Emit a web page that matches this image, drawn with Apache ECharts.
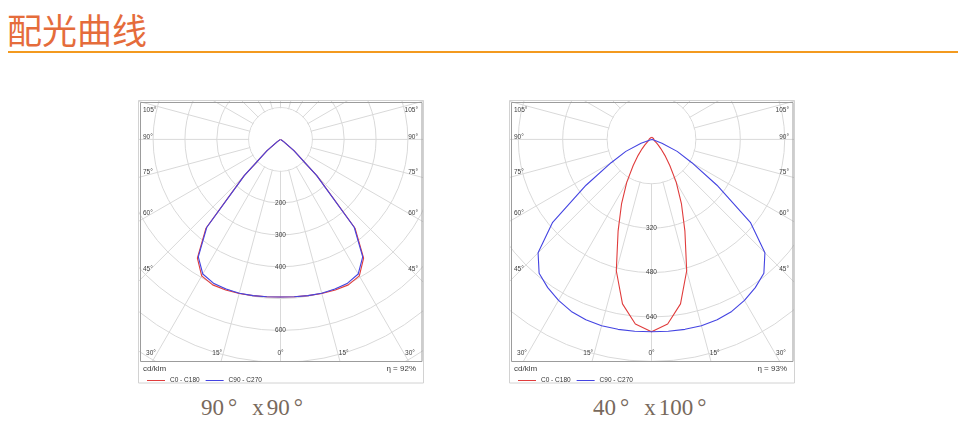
<!DOCTYPE html>
<html>
<head>
<meta charset="utf-8">
<title>配光曲线</title>
<script src="https://cdn.jsdelivr.net/npm/echarts@6/dist/echarts.min.js"></script>
<style>
  body { margin: 0; width: 969px; height: 426px; background: #fff; position: relative; overflow: hidden; }
  .title { position: absolute; left: 7px; top: 11px; font: 35px/35px "Noto Sans CJK SC", sans-serif; color: #e56c3b; }
  .rule { position: absolute; left: 8px; top: 51px; width: 950px; height: 2px; background: #f39a1f; }
  .box { position: absolute; top: 100px; width: 286px; height: 284px; }
  .cap { position: absolute; top: 396px; font: 23px/23px "Liberation Serif", serif; color: #78695c; white-space: nowrap; }
  .cap .dg { margin-left: 4px; }
  .cap .x { margin-left: 15px; margin-right: 3px; }
</style>
</head>
<body>
<div class="title">配光曲线</div>
<div class="rule"></div>
<div class="box" id="chartL" style="left:138px"></div>
<div class="box" id="chartR" style="left:509px"></div>
<div class="cap" style="left:201px">90<span class="dg">°</span><span class="x">x</span>90<span class="dg">°</span></div>
<div class="cap" style="left:593px">40<span class="dg">°</span><span class="x">x</span>100<span class="dg">°</span></div>
<script>
// gamma angle (deg from nadir), every 5 deg
var gammaDeg = [0, 5, 10, 15, 20, 25, 30, 35, 40, 45, 50, 55, 60, 65, 70, 75, 80, 85, 90,
  95, 100, 105, 110, 115, 120, 125, 130, 135, 140, 145, 150, 155, 160, 165, 170, 175, 180];

// 90 x 90 lamp, cd/klm
var leftC0 = [495, 496, 498, 501, 503, 504, 495, 455, 364, 163, 56, 12, 2, 0, 0, 0, 0, 0, 0,
  0, 0, 0, 0, 0, 0, 0, 0, 0, 0, 0, 0, 0, 0, 0, 0, 0, 0];
var leftC90 = [495, 496, 498, 500, 500, 498, 488, 450, 360, 160, 54, 12, 2, 0, 0, 0, 0, 0, 0,
  0, 0, 0, 0, 0, 0, 0, 0, 0, 0, 0, 0, 0, 0, 0, 0, 0, 0];

// 40 x 100 lamp, cd/klm
var rightC0 = [693, 668, 602, 490, 352, 255, 178, 115, 75, 48, 32, 22, 15, 11, 9, 8, 8, 8, 8,
  8, 8, 8, 8, 8, 8, 8, 8, 8, 8, 8, 8, 8, 8, 8, 8, 8, 8];
var rightC90 = [693, 694, 695, 695, 692, 684, 670, 652, 630, 578, 465, 288, 168, 102, 40, 6, 0, 0, 0,
  0, 0, 0, 0, 0, 0, 0, 0, 0, 0, 0, 0, 0, 0, 0, 0, 0, 0];

var leftRingLabels = [200, 300, 400, 600];
var rightRingLabels = [320, 480, 640];
var sideAngles = [45, 60, 75, 90, 105];
var bottomAngles = [30, 15, 0];
var seriesNames = ['C0 - C180', 'C90 - C270'];

var labelFont = 'Liberation Sans';
var gridColor = '#d9d9d9';

// closed curve: one half plane at angle g, the other at 360 - g
function curvePoints(values) {
  var pts = [];
  for (var i = gammaDeg.length - 1; i >= 0; i--) pts.push([values[i], gammaDeg[i]]);
  for (var j = 1; j < gammaDeg.length; j++) pts.push([values[j], 360 - gammaDeg[j]]);
  return pts;
}

function txt(x, y, s, align, size) {
  return { type: 'text', x: x, y: y, z: 60, silent: true,
    style: { text: s, fontSize: size || 6.5, fontFamily: labelFont, fill: '#3c3c3c', align: align, verticalAlign: 'middle' } };
}

function angleTexts(cx, cy) {
  var out = [];
  var d2r = Math.PI / 180;
  sideAngles.forEach(function (a) {
    var y = cy + (cx - 11) / Math.tan(a * d2r) - 2;
    if (y < 10) y = 10;
    out.push(txt(5, y, a + '°', 'left'));
    out.push(txt(280, y, a + '°', 'right'));
  });
  var yb = 253.5;
  bottomAngles.forEach(function (a) {
    var dx = (yb - cy) * Math.tan(a * d2r);
    if (a === 0) { out.push(txt(cx, yb, '0°', 'center')); return; }
    out.push(txt(cx - dx - 1, yb, a + '°', 'right'));
    out.push(txt(cx + dx + 1, yb, a + '°', 'left'));
  });
  return out;
}

function makeChart(el, cfg) {
  var chart = echarts.init(document.getElementById(el), null, { renderer: 'canvas' });
  var cx = 142.5, cy = 39.4;
  var rOuter = cfg.max * cfg.pxPerCd;
  var rInner = cfg.step * cfg.pxPerCd;

  var option = {
    animation: false,
    polar: { center: [cx, cy], radius: rOuter },
    angleAxis: {
      type: 'value', min: 0, max: 360, interval: 15, startAngle: -90, clockwise: true, z: 0,
      axisLine: { show: false }, axisTick: { show: false }, axisLabel: { show: false },
      splitLine: { show: true, lineStyle: { color: gridColor, width: 1 } }
    },
    radiusAxis: {
      type: 'value', min: 0, max: cfg.max, interval: cfg.step, z: 0,
      axisLine: { show: false }, axisTick: { show: false },
      splitLine: { show: true, lineStyle: { color: gridColor, width: 1 } },
      axisLabel: {
        show: true, margin: 0, align: 'center', verticalAlign: 'middle',
        fontSize: 6.5, fontFamily: labelFont, color: '#3c3c3c',
        formatter: function (v) { return cfg.rings.indexOf(v) >= 0 ? String(v) : ''; }
      }
    },
    legend: {
      data: seriesNames, left: 4, top: 272, z: 60,
      icon: 'rect', itemWidth: 18, itemHeight: 1, itemGap: 6,
      textStyle: { fontSize: 6.5, fontFamily: labelFont, color: '#333' }
    },
    series: [
      {
        name: seriesNames[0], type: 'line', coordinateSystem: 'polar',
        data: curvePoints(cfg.c0), symbol: 'none', z: 3, clip: false,
        lineStyle: { color: '#e03c3c', width: 1.1 }, itemStyle: { color: '#e03c3c' }
      },
      {
        name: seriesNames[1], type: 'line', coordinateSystem: 'polar',
        data: curvePoints(cfg.c90), symbol: 'none', z: 4, clip: false,
        lineStyle: { color: '#4444e2', width: 1.1 }, itemStyle: { color: '#4444e2' }
      }
    ],
    graphic: [
      // blank hub inside the first ring, under the curves
      { type: 'circle', z: 1, silent: true, shape: { cx: cx, cy: cy, r: rInner - 0.6 }, style: { fill: '#fff' } },
      // legend strip under the plot
      { type: 'rect', z: 50, silent: true, shape: { x: 0, y: 262, width: 286, height: 22 }, style: { fill: '#fff' } },
      { type: 'rect', z: 55, silent: true, shape: { x: 0.5, y: 0.5, width: 285, height: 282.5 }, style: { fill: 'none', stroke: '#d2d2d2', lineWidth: 1 } },
      { type: 'rect', z: 55, silent: true, shape: { x: 2.5, y: 2.5, width: 281.5, height: 259 }, style: { fill: 'none', stroke: '#9c9c9c', lineWidth: 1 } },
      txt(5, 269, 'cd/klm', 'left', 8),
      txt(278, 269, cfg.eff, 'right', 8)
    ].concat(angleTexts(cx, cy))
  };
  chart.setOption(option);
  return chart;
}

makeChart('chartL', { c0: leftC0, c90: leftC90, step: 100, max: 900, pxPerCd: 0.3185, rings: leftRingLabels, eff: 'η = 92%' });
makeChart('chartR', { c0: rightC0, c90: rightC90, step: 160, max: 960, pxPerCd: 0.2775, rings: rightRingLabels, eff: 'η = 93%' });
</script>
</body>
</html>
